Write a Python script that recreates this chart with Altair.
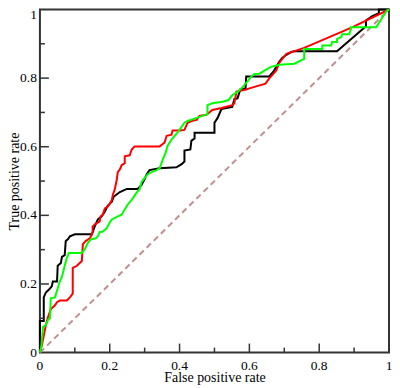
import altair as alt
import pandas as pd

# ROC curves (false positive rate, true positive rate)
black_fpr = [0, 0, 0.011, 0.011, 0.017, 0.026, 0.034, 0.037, 0.049, 0.051, 0.060, 0.063, 0.071, 0.074,
             0.080, 0.086, 0.100, 0.149, 0.157, 0.166, 0.177, 0.186, 0.194, 0.206, 0.211, 0.229, 0.249,
             0.280, 0.291, 0.300, 0.306, 0.314, 0.343, 0.391, 0.406, 0.414, 0.414, 0.431, 0.434, 0.443,
             0.443, 0.500, 0.500, 0.509, 0.520, 0.551, 0.557, 0.566, 0.574, 0.589, 0.591, 0.657, 0.671,
             0.686, 0.694, 0.706, 0.720, 0.729, 0.851, 0.934, 0.934, 0.951, 0.971, 0.971, 1.0]
black_tpr = [0, 0.092, 0.092, 0.161, 0.175, 0.184, 0.193, 0.207, 0.207, 0.253, 0.261, 0.279, 0.284, 0.325,
             0.330, 0.339, 0.345, 0.345, 0.368, 0.388, 0.397, 0.411, 0.428, 0.440, 0.454, 0.468, 0.477,
             0.477, 0.489, 0.506, 0.520, 0.532, 0.537, 0.540, 0.549, 0.557, 0.589, 0.592, 0.618, 0.624,
             0.641, 0.641, 0.670, 0.684, 0.710, 0.716, 0.739, 0.741, 0.767, 0.770, 0.805, 0.805, 0.822,
             0.848, 0.859, 0.868, 0.876, 0.878, 0.878, 0.951, 0.968, 0.980, 0.989, 1.0, 1.0]

red_fpr = [0, 0.006, 0.017, 0.023, 0.031, 0.043, 0.049, 0.057, 0.077, 0.086, 0.094, 0.094, 0.106, 0.114,
           0.120, 0.123, 0.131, 0.143, 0.149, 0.151, 0.151, 0.160, 0.171, 0.174, 0.180, 0.186, 0.194,
           0.200, 0.206, 0.209, 0.214, 0.220, 0.223, 0.229, 0.234, 0.243, 0.243, 0.257, 0.263, 0.271,
           0.343, 0.349, 0.357, 0.363, 0.377, 0.380, 0.400, 0.414, 0.423, 0.434, 0.449, 0.457, 0.477,
           0.494, 0.520, 0.551, 0.557, 0.563, 0.591, 0.600, 0.646, 0.657, 0.677, 0.686, 0.706, 0.757,
           0.894, 1.0]
red_tpr = [0, 0.023, 0.080, 0.103, 0.126, 0.138, 0.147, 0.152, 0.152, 0.161, 0.172, 0.247, 0.253, 0.261,
           0.267, 0.316, 0.325, 0.333, 0.345, 0.353, 0.368, 0.376, 0.382, 0.397, 0.402, 0.420, 0.425,
           0.434, 0.445, 0.460, 0.474, 0.503, 0.526, 0.534, 0.546, 0.552, 0.572, 0.575, 0.592, 0.601,
           0.601, 0.606, 0.612, 0.632, 0.635, 0.647, 0.647, 0.649, 0.670, 0.675, 0.678, 0.690, 0.693,
           0.707, 0.713, 0.721, 0.727, 0.761, 0.767, 0.770, 0.784, 0.799, 0.822, 0.845, 0.871, 0.888,
           0.948, 1.0]

green_fpr = [0, 0.004, 0.009, 0.017, 0.023, 0.029, 0.031, 0.043, 0.049, 0.057, 0.063, 0.066, 0.071, 0.077,
             0.083, 0.120, 0.129, 0.137, 0.146, 0.160, 0.166, 0.171, 0.180, 0.191, 0.200, 0.206, 0.223,
             0.234, 0.243, 0.251, 0.263, 0.277, 0.286, 0.291, 0.300, 0.309, 0.320, 0.334, 0.343, 0.351,
             0.360, 0.366, 0.377, 0.386, 0.394, 0.406, 0.414, 0.423, 0.443, 0.480, 0.480, 0.494, 0.523,
             0.540, 0.551, 0.566, 0.580, 0.594, 0.606, 0.614, 0.629, 0.643, 0.660, 0.686, 0.729, 0.757,
             0.757, 0.809, 0.809, 0.834, 0.837, 0.851, 0.851, 0.863, 0.866, 0.886, 0.891, 0.891, 0.963,
             0.994, 1.0]
green_tpr = [0, 0.017, 0.075, 0.080, 0.095, 0.101, 0.158, 0.161, 0.181, 0.207, 0.221, 0.233, 0.253, 0.276,
             0.290, 0.290, 0.302, 0.319, 0.330, 0.333, 0.339, 0.351, 0.353, 0.362, 0.379, 0.388, 0.397,
             0.402, 0.417, 0.431, 0.445, 0.466, 0.477, 0.497, 0.509, 0.520, 0.526, 0.532, 0.537, 0.560,
             0.583, 0.603, 0.621, 0.632, 0.641, 0.658, 0.670, 0.675, 0.682, 0.695, 0.721, 0.727, 0.731,
             0.736, 0.750, 0.760, 0.773, 0.790, 0.805, 0.812, 0.813, 0.822, 0.832, 0.839, 0.842, 0.856,
             0.885, 0.885, 0.895, 0.895, 0.905, 0.905, 0.914, 0.920, 0.928, 0.928, 0.943, 0.948, 0.948,
             0.997, 1.0]

diag_vals = [0, 1]
tick_values = [0, 0.2, 0.4, 0.6, 0.8, 1]
tick_labels = ["0", "0.2", "0.4", "0.6", "0.8", "1"]
major_ticks = [0.2, 0.4, 0.6, 0.8]
minor_ticks = [0.1, 0.3, 0.5, 0.7, 0.9]

series_names = ["black", "red", "green"]
series_colors = ["#000000", "#ff0000", "#00ff00"]

rows = []
for name, fs, ts in [("black", black_fpr, black_tpr), ("red", red_fpr, red_tpr), ("green", green_fpr, green_tpr)]:
    for i, (f, t) in enumerate(zip(fs, ts)):
        rows.append({"series": name, "fpr": f, "tpr": t, "idx": i})
df = pd.DataFrame(rows)

W, H = 350, 344
FONT = "Liberation Serif"
LBL = 13.5

xs = alt.Scale(domain=[0, 1], nice=False, zero=False)
ys = alt.Scale(domain=[0, 1], nice=False, zero=False)

x_axis = alt.Axis(values=tick_values, labels=False, title="False positive rate",
                  titleBaseline="alphabetic", titleY=29, titleX=W / 2)
y_axis = alt.Axis(values=tick_values, labels=False, title="True positive rate",
                  titleBaseline="alphabetic", titleAngle=270, titleX=-21, titleY=H / 2)

x_enc = alt.X("fpr:Q", scale=xs, axis=x_axis)
y_enc = alt.Y("tpr:Q", scale=ys, axis=y_axis)

diag = alt.Chart(pd.DataFrame({"fpr": diag_vals, "tpr": diag_vals})).mark_line(
    color="#c09090", strokeWidth=2, strokeDash=[6, 4]).encode(x=x_enc, y=y_enc)

curves = alt.Chart(df).mark_line(strokeWidth=2, strokeJoin="miter").encode(
    x=x_enc, y=y_enc,
    color=alt.Color("series:N", scale=alt.Scale(domain=series_names, range=series_colors), legend=None),
    order=alt.Order("idx:Q"),
)

xt_major = alt.Chart(pd.DataFrame({"fpr": major_ticks})).mark_rule(color="#333", strokeWidth=1.5).encode(
    x=x_enc, y=alt.value(H), y2=alt.value(H - 9))
xt_minor = alt.Chart(pd.DataFrame({"fpr": minor_ticks})).mark_rule(color="#333", strokeWidth=1.5).encode(
    x=x_enc, y=alt.value(H), y2=alt.value(H - 5))
yt_major = alt.Chart(pd.DataFrame({"tpr": major_ticks})).mark_rule(color="#333", strokeWidth=1.5).encode(
    y=y_enc, x=alt.value(0), x2=alt.value(9))
yt_minor = alt.Chart(pd.DataFrame({"tpr": minor_ticks})).mark_rule(color="#333", strokeWidth=1.5).encode(
    y=y_enc, x=alt.value(0), x2=alt.value(5))

# tick labels as text marks (serif, like the reference)
xlab_df = pd.DataFrame({"fpr": tick_values, "label": tick_labels})
x_labels = alt.Chart(xlab_df).mark_text(font=FONT, fontSize=LBL, color="black", align="center",
                                         baseline="alphabetic").encode(
    x=x_enc, y=alt.value(H + 17), text="label:N")

ylab_df = pd.DataFrame({"tpr": tick_values[:-1], "label": tick_labels[:-1]})
y_labels = alt.Chart(ylab_df).mark_text(font=FONT, fontSize=LBL, color="black", align="right",
                                         baseline="middle").encode(
    y=y_enc, x=alt.value(-3), text="label:N")
ytop_df = pd.DataFrame({"tpr": tick_values[-1:], "label": tick_labels[-1:]})
y_top_label = alt.Chart(ytop_df).mark_text(font=FONT, fontSize=LBL, color="black", align="right",
                                            baseline="top", dy=-1).encode(
    y=y_enc, x=alt.value(-3), text="label:N")

chart = alt.layer(diag, curves, xt_major, xt_minor, yt_major, yt_minor,
                  x_labels, y_labels, y_top_label).properties(
    width=W, height=H,
    autosize=alt.AutoSizeParams(type="none"),
    padding={"left": 32, "top": 1, "right": 3, "bottom": 34},
).configure_view(
    stroke="#333", strokeWidth=2
).configure_axis(
    ticks=False, tickSize=0, domain=False, grid=False,
    titleFont=FONT, titleFontSize=14, titleFontWeight="normal", titleColor="black",
)

chart.save("out.html", embed_options={"renderer": "svg", "actions": False})
